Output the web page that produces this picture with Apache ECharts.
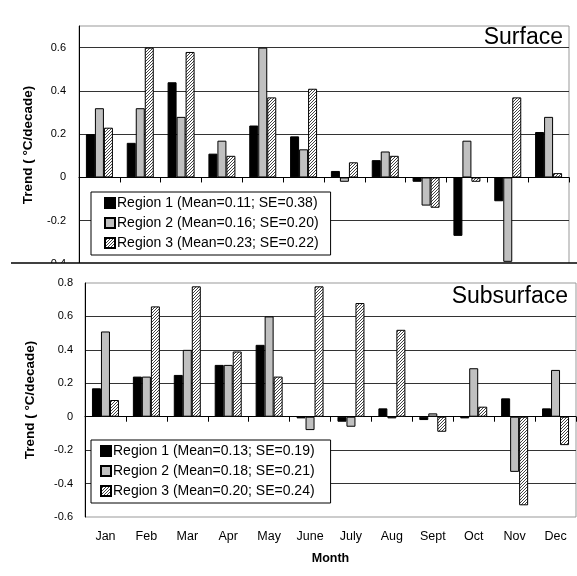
<!DOCTYPE html>
<html>
<head>
<meta charset="utf-8">
<script src="https://cdn.jsdelivr.net/npm/echarts@6/dist/echarts.min.js"></script>
<style>
  html, body { margin: 0; padding: 0; background: #fff; }
  #chart { width: 577px; height: 576px; }
</style>
</head>
<body>
<div id="chart"></div>
<script>
// Datos
const meses = ['Jan', 'Feb', 'Mar', 'Apr', 'May', 'June', 'July', 'Aug', 'Sept', 'Oct', 'Nov', 'Dec'];

const nombresSurface = [
    'Region 1 (Mean=0.11; SE=0.38)',
    'Region 2 (Mean=0.16; SE=0.20)',
    'Region 3 (Mean=0.23; SE=0.22)'
];
const surfaceR1 = [0.20, 0.16, 0.44, 0.11, 0.24, 0.19, 0.03, 0.08, -0.02, -0.27, -0.11, 0.21];
const surfaceR2 = [0.32, 0.32, 0.28, 0.17, 0.60, 0.13, -0.02, 0.12, -0.13, 0.17, -0.39, 0.28];
const surfaceR3 = [0.23, 0.60, 0.58, 0.10, 0.37, 0.41, 0.07, 0.10, -0.14, -0.02, 0.37, 0.02];

const nombresSubsurface = [
    'Region 1 (Mean=0.13; SE=0.19)',
    'Region 2 (Mean=0.18; SE=0.21)',
    'Region 3 (Mean=0.20; SE=0.24)'
];
const subsurfaceR1 = [0.17, 0.24, 0.25, 0.31, 0.43, -0.01, -0.03, 0.05, -0.02, -0.01, 0.11, 0.05];
const subsurfaceR2 = [0.51, 0.24, 0.40, 0.31, 0.60, -0.08, -0.06, -0.01, 0.02, 0.29, -0.33, 0.28];
const subsurfaceR3 = [0.10, 0.66, 0.78, 0.39, 0.24, 0.78, 0.68, 0.52, -0.09, 0.06, -0.53, -0.17];

const fuente = 'Liberation Sans, Arial, sans-serif';

// Patrón rayado para Region 3
const lienzo = document.createElement('canvas');
lienzo.width = 3;
lienzo.height = 3;
const ctx = lienzo.getContext('2d');
ctx.fillStyle = '#ffffff';
ctx.fillRect(0, 0, 3, 3);
ctx.fillStyle = '#444444';
ctx.fillRect(0, 2, 1, 1);
ctx.fillRect(1, 1, 1, 1);
ctx.fillRect(2, 0, 1, 1);
const rayado = { image: lienzo, repeat: 'repeat' };

const colores = ['#000000', '#c0c0c0', rayado];

function serie(nombre, datos, idx, eje) {
    return {
        name: nombre,
        type: 'bar',
        xAxisIndex: eje,
        yAxisIndex: eje === 0 ? 0 : 1,
        data: datos,
        barWidth: 9,
        barGap: '0%',
        itemStyle: { color: colores[idx], borderColor: '#000', borderWidth: 1 },
        emphasis: { disabled: true }
    };
}

function ejeY(grid, min, max, margen, nombreGap) {
    return {
        type: 'value',
        gridIndex: grid,
        min: min,
        max: max,
        interval: 0.2,
        name: 'Trend ( °C/decade)',
        nameLocation: 'middle',
        nameRotate: 90,
        nameGap: nombreGap,
        nameTextStyle: { fontFamily: fuente, fontSize: 13.5, fontWeight: 'bold', color: '#000' },
        axisLine: { show: true, lineStyle: { color: '#000', width: 1 } },
        axisTick: { show: false },
        axisLabel: {
            fontFamily: fuente,
            fontSize: 11,
            color: '#000',
            margin: margen,
            showMaxLabel: max === 0.8,
            formatter: function (v) {
                if (Math.abs(v) < 1e-9) return '0';
                return v.toFixed(1);
            }
        },
        splitLine: { show: true, showMinLine: false, showMaxLine: false, lineStyle: { color: '#333', width: 1 } }
    };
}

function ejeXCero(grid) {
    return {
        type: 'category',
        gridIndex: grid,
        data: meses,
        axisLine: { onZero: true, lineStyle: { color: '#000', width: 1 } },
        axisTick: { show: true, length: 5, lineStyle: { color: '#000' } },
        axisLabel: { show: false },
        splitLine: { show: false }
    };
}

function leyenda(nombres, top, gap, izq, der) {
    return {
        data: nombres,
        orient: 'vertical',
        left: 91,
        top: top,
        icon: 'rect',
        itemWidth: 10,
        itemHeight: 10,
        itemGap: gap,
        padding: [4, der, 5, izq],
        backgroundColor: '#fff',
        borderColor: '#000',
        borderWidth: 1,
        selectedMode: false,
        textStyle: { fontFamily: fuente, fontSize: 14, color: '#000', padding: [0, 0, 0, -3] }
    };
}

const grafico = echarts.init(document.getElementById('chart'));
grafico.setOption({
    animation: false,
    backgroundColor: '#fff',
    title: [
        { text: 'Surface', right: 14, top: 26, padding: 0, textStyle: { fontFamily: fuente, fontSize: 23, fontWeight: 'normal', color: '#000' } },
        { text: 'Subsurface', right: 9, top: 285, padding: 0, textStyle: { fontFamily: fuente, fontSize: 23, fontWeight: 'normal', color: '#000' } }
    ],
    legend: [
        leyenda(nombresSurface, 192, 6, 13, 12),
        leyenda(nombresSubsurface, 440, 6, 9, 16)
    ],
    grid: [
        { left: 79, top: 26, width: 490, height: 238, show: true, borderColor: '#999', borderWidth: 1 },
        { left: 85, top: 283, width: 491, height: 234, show: true, borderColor: '#999', borderWidth: 1 }
    ],
    xAxis: [
        ejeXCero(0),
        ejeXCero(1),
        {
            type: 'category',
            gridIndex: 1,
            data: meses,
            position: 'bottom',
            axisLine: { show: false, onZero: false },
            axisTick: { show: false },
            axisLabel: { fontFamily: fuente, fontSize: 12.5, color: '#000', margin: 13 },
            name: 'Month',
            nameLocation: 'middle',
            nameGap: 35,
            nameTextStyle: { fontFamily: fuente, fontSize: 12.5, fontWeight: 'bold', color: '#000' }
        }
    ],
    yAxis: [
        ejeY(0, -0.4, 0.7, 13, 44),
        ejeY(1, -0.6, 0.8, 12, 48)
    ],
    series: [
        serie(nombresSurface[0], surfaceR1, 0, 0),
        serie(nombresSurface[1], surfaceR2, 1, 0),
        serie(nombresSurface[2], surfaceR3, 2, 0),
        serie(nombresSubsurface[0], subsurfaceR1, 0, 1),
        serie(nombresSubsurface[1], subsurfaceR2, 1, 1),
        serie(nombresSubsurface[2], subsurfaceR3, 2, 1)
    ],
    graphic: [
        // recorte del panel superior
        { type: 'rect', z: 100, shape: { x: 0, y: 263, width: 577, height: 11 }, style: { fill: '#fff' } },
        { type: 'line', z: 101, shape: { x1: 11, y1: 263, x2: 577, y2: 263 }, style: { stroke: '#000', lineWidth: 1.5 } }
    ]
});
</script>
</body>
</html>
